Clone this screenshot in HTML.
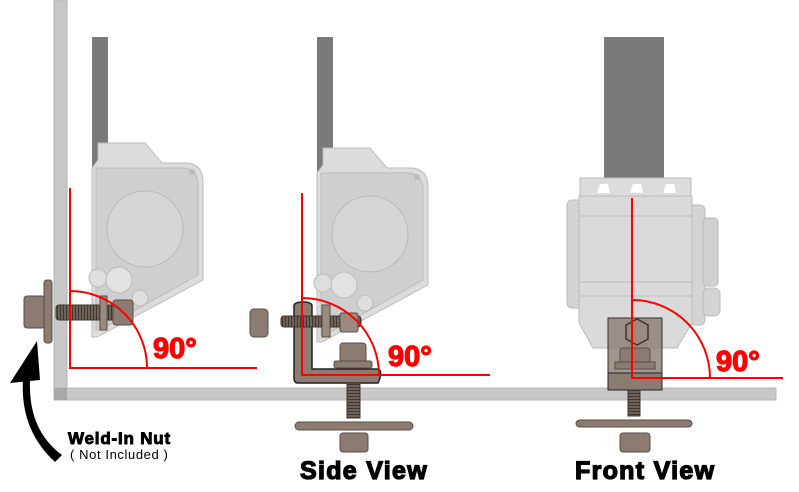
<!DOCTYPE html>
<html><head><meta charset="utf-8"><style>
html,body{margin:0;padding:0;background:#fff;width:799px;height:492px;overflow:hidden}
svg{display:block}
text{font-family:"Liberation Sans",sans-serif;font-weight:bold}
</style></head><body>
<svg width="799" height="492" viewBox="0 0 799 492" xmlns="http://www.w3.org/2000/svg">
<defs>
<g id="ret">
  <rect x="92" y="37" width="16" height="133" fill="#7a7a7a"/>
  <path d="M98,143 L145,143 L162,163 L188,163 Q203,165 203,182 L203,280 L97,337 L92,337 L92,168 L98,160 Z" fill="#dcdcdc" stroke="#bdbdbd" stroke-width="1"/>
  <path d="M96,168 L185,168 Q198,170 198,185 L198,275 L100,330 L96,330 Z" fill="#cfcfcf" stroke="#bcbcbc"/>
  <circle cx="145" cy="229" r="38" fill="#d6d6d6" stroke="#b8b8b8"/>
  <circle cx="98" cy="278" r="9" fill="#dedede" stroke="#bbb"/>
  <circle cx="119" cy="280" r="13" fill="#e2e2e2" stroke="#bbb"/>
  <circle cx="140" cy="298" r="8" fill="#dedede" stroke="#bbb"/>
  <circle cx="192" cy="172" r="3" fill="#bbb"/>
</g>
<pattern id="thr" width="3" height="10" patternUnits="userSpaceOnUse">
  <rect width="3" height="10" fill="#6e625a"/><rect width="1" height="10" fill="#3f3630"/>
</pattern>
<pattern id="thrv" width="10" height="3" patternUnits="userSpaceOnUse">
  <rect width="10" height="3" fill="#6e625a"/><rect width="10" height="1" fill="#3f3630"/>
</pattern>
</defs>

<rect x="54" y="0" width="13" height="400" fill="#c8c8c8" stroke="#b5b5b5"/>
<rect x="54" y="388" width="722" height="12" fill="#c8c8c8" stroke="#b5b5b5"/>
<rect x="54" y="388" width="13" height="12" fill="#a8a8a8"/>

<use href="#ret"/>
<use href="#ret" transform="translate(225,5)"/>
<rect x="317" y="37" width="16" height="10" fill="#7a7a7a"/>

<rect x="604" y="37" width="60" height="141" fill="#7a7a7a"/>
<rect x="567" y="200" width="16" height="108" rx="5" fill="#d4d4d4" stroke="#bbb"/>
<rect x="689" y="205" width="16" height="120" rx="5" fill="#d4d4d4" stroke="#bbb"/>
<rect x="703" y="218" width="15" height="68" rx="4" fill="#d0d0d0" stroke="#bbb"/>
<rect x="703" y="288" width="17" height="28" rx="6" fill="#d4d4d4" stroke="#bbb"/>
<path d="M579,196 L692,196 L692,323 L677,348 L593,348 L579,323 Z" fill="#dadada" stroke="#bbb"/>
<rect x="580" y="178" width="111" height="18" fill="#dcdcdc" stroke="#bbb"/>
<path d="M597,193 L600,184 L608,184 L610,193Z M630,193 L633,184 L641,184 L643,193Z M663,193 L666,184 L674,184 L676,193Z" fill="#fff"/>
<line x1="580" y1="216" x2="692" y2="216" stroke="#bbb"/>
<line x1="580" y1="282" x2="692" y2="282" stroke="#bbb"/>
<line x1="580" y1="296" x2="692" y2="296" stroke="#bbb"/>

<rect x="24" y="296" width="21" height="32" rx="3" fill="#8b7b70" stroke="#5a4d45"/>
<rect x="44" y="280" width="8" height="63" rx="3" fill="#8b7b70" stroke="#5a4d45"/>
<rect x="56" y="305" width="62" height="15" rx="3" fill="url(#thr)" stroke="#3f3630"/>
<rect x="100" y="296" width="7" height="34" fill="#9a8a80" stroke="#5a4d45"/>
<rect x="113" y="300" width="20" height="25" rx="3" fill="#8b7b70" stroke="#5a4d45"/>
<rect x="250" y="309" width="18" height="28" rx="4" fill="#8b7b70" stroke="#5a4d45"/>

<path d="M294,306 Q294,302 303,302 Q312,302 312,306 L312,369 L378,369 Q382,370 380,378 L378,383 L298,383 Q294,383 294,378 Z" fill="#8b7b70" stroke="#222" stroke-width="1.5"/>
<rect x="281" y="316" width="80" height="11" rx="3" fill="url(#thr)" stroke="#3f3630"/>
<rect x="322" y="305" width="8" height="32" fill="#9a8a80" stroke="#5a4d45"/>
<rect x="340" y="313" width="18" height="19" rx="2" fill="#9a8a80" stroke="#5a4d45"/>
<rect x="340" y="343" width="26" height="19" rx="3" fill="#8b7b70" stroke="#5a4d45"/>
<rect x="334" y="361" width="38" height="7" rx="2" fill="#8b7b70" stroke="#5a4d45"/>
<rect x="347" y="383" width="13" height="35" fill="url(#thrv)" stroke="#3f3630"/>
<rect x="295" y="422" width="118" height="8" rx="4" fill="#8b7b70" stroke="#5a4d45"/>
<rect x="340" y="433" width="28" height="19" rx="3" fill="#8b7b70" stroke="#5a4d45"/>

<rect x="608" y="318" width="54" height="56" fill="#8b7b70" fill-opacity="0.8" stroke="#333"/>
<polygon points="637,319 648,325 648,339 637,345 626,339 626,325" fill="#9a8a80" stroke="#3f3630" stroke-width="1.5"/>
<rect x="620" y="348" width="30" height="15" rx="3" fill="#8b7b70" stroke="#5a4d45"/>
<rect x="615" y="362" width="40" height="7" fill="#8b7b70" stroke="#5a4d45"/>
<rect x="608" y="373" width="54" height="17" fill="#8b7b70" stroke="#222"/>
<rect x="628" y="390" width="12" height="26" fill="url(#thrv)" stroke="#3f3630"/>
<rect x="576" y="420" width="116" height="7" rx="4" fill="#8b7b70" stroke="#5a4d45"/>
<rect x="620" y="433" width="30" height="19" rx="3" fill="#8b7b70" stroke="#5a4d45"/>

<g fill="none" stroke="#f00" stroke-width="2">
  <path d="M70,188 L70,368 L257,368 M70,291 A77,77 0 0 1 147,368"/>
  <path d="M230,368 L257,368"/>
  <path d="M302,193 L302,375 L490,375 M302,298 A77,77 0 0 1 379,375"/>
  <path d="M632,198 L632,378 L783,378 M632,300 A78,78 0 0 1 710,378"/>
</g>
<g fill="#f00" stroke="#f00" stroke-width="1.2">
<text x="153" y="358" font-size="29">90°</text>
<text x="388" y="366" font-size="29">90°</text>
<text x="716" y="371" font-size="29">90°</text>
</g>

<path d="M62,455 Q28,430 30,380 L23,380 Q20,430 55,462 Z" fill="#000"/>
<polygon points="37,341 10,383 40,380" fill="#000"/>

<g fill="#000" stroke="#000">
<text x="68" y="444" font-size="17" stroke-width="0.9" letter-spacing="0.8">Weld-In Nut</text>
<text x="300" y="479" font-size="25" stroke-width="1.3" letter-spacing="1.3">Side View</text>
<text x="575" y="479" font-size="25" stroke-width="1.3" letter-spacing="1.3">Front View</text>
</g>
<text x="70" y="459" font-size="13" style="font-weight:normal" fill="#000" letter-spacing="0.6">( Not Included )</text>
</svg>
</body></html>
